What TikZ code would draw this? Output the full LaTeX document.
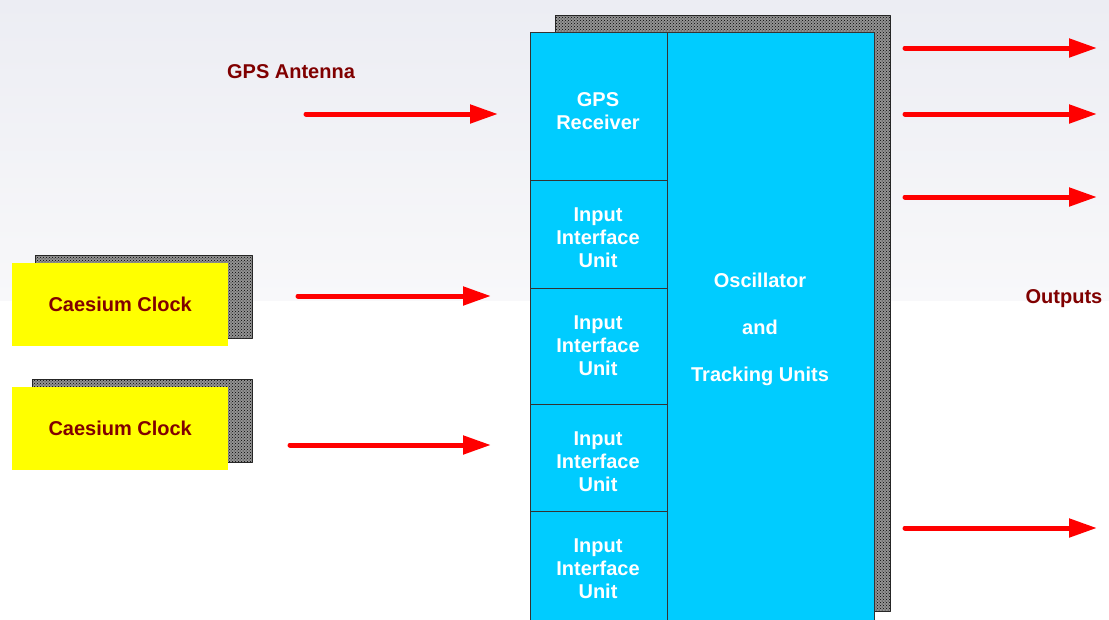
\documentclass[tikz,border=0pt]{standalone}
\usepackage{fontspec}
\setmainfont{Liberation Sans}
\usetikzlibrary{arrows.meta,patterns}
\definecolor{boxcyan}{RGB}{0,204,255}
\definecolor{clockyellow}{RGB}{255,255,0}
\definecolor{labelred}{RGB}{128,0,0}
\definecolor{sigred}{RGB}{255,0,0}
\begin{document}
\begin{tikzpicture}[x=1pt,y=-1pt,line join=round,font=\fontsize{20}{23}\selectfont\bfseries,
  unitbox/.style={draw=black!80,line width=0.8pt,fill=boxcyan,anchor=north west,inner sep=0pt},
  unittext/.style={text=white,align=center,inner sep=0pt},
  clockbox/.style={fill=clockyellow,text=labelred,anchor=north west,inner sep=0pt,minimum width=216,minimum height=83},
  shadowbox/.style={preaction={fill=gray!85},pattern=crosshatch dots,pattern color=black,draw=black!85,line width=0.8pt},
  labeltext/.style={text=labelred},
  sigarrow/.style={draw=sigred,line width=5pt,line cap=round,-{Triangle[length=28pt,width=18pt]}}]
\useasboundingbox (0,0) rectangle (1109,619);
\clip (0,0) rectangle (1109,619);
% slide background
\shade[top color={rgb,255:red,236;green,237;blue,243},bottom color={rgb,255:red,248;green,248;blue,250}] (0,0) rectangle (1109,300);
% shadows
\path[shadowbox] (555,15) rectangle (890,611);
\path[shadowbox] (35,255) rectangle (252,338);
\path[shadowbox] (32,379) rectangle (252,462);
% clocks
\node[clockbox] (clockA) at (12,263) {Caesium Clock};
\node[clockbox] (clockB) at (12,387) {Caesium Clock};
% main unit
\node[unitbox,minimum width=207,minimum height=593] (osc) at (667,32) {};
\node[unitbox,minimum width=137,minimum height=148] (gps) at (530,32) {};
\node[unitbox,minimum width=137,minimum height=108] (inA) at (530,180) {};
\node[unitbox,minimum width=137,minimum height=116] (inB) at (530,288) {};
\node[unitbox,minimum width=137,minimum height=107] (inC) at (530,404) {};
\node[unitbox,minimum width=137,minimum height=114] (inD) at (530,511) {};
\node[unittext] (osctext) at (760,329) {Oscillator\\[24pt]and\\[24pt]Tracking Units};
\node[unittext] (gpstext) at (598,111) {GPS\\Receiver};
\foreach \n/\y in {A/238,B/346,C/462,D/569}
  \node[unittext] (in\n text) at (598,\y) {Input\\Interface\\Unit};
% labels
\node[labeltext] (antlabel) at (291,72) {GPS Antenna};
\node[labeltext] (outlabel) at (1064,299) {Outputs};
% inputs
\coordinate (antS) at (306,114); \coordinate (antE) at (498,114);
\coordinate (clkAS) at (298,296); \coordinate (clkAE) at (491,296);
\coordinate (clkBS) at (290,445); \coordinate (clkBE) at (491,445);
\draw[sigarrow] (antS) -- (antE);
\draw[sigarrow] (clkAS) -- (clkAE);
\draw[sigarrow] (clkBS) -- (clkBE);
% outputs
\foreach \y/\n in {48/a,114/b,197/c,528/d}{
  \coordinate (out\n S) at (905,\y); \coordinate (out\n E) at (1097,\y);
  \draw[sigarrow] (out\n S) -- (out\n E);
}
\end{tikzpicture}
\end{document}
